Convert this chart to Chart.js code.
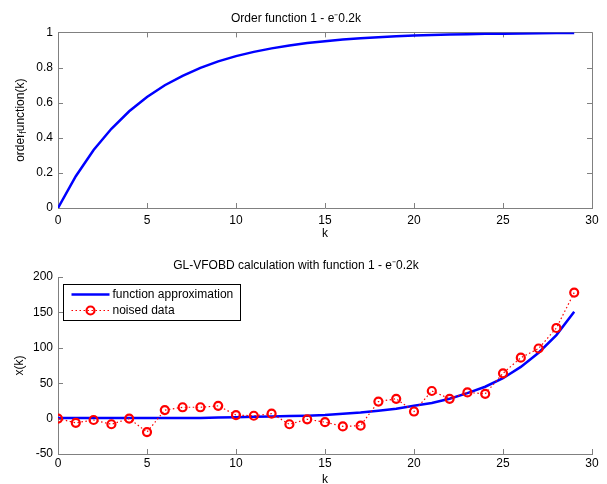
<!DOCTYPE html>
<html>
<head>
<meta charset="utf-8">
<script src="https://cdn.jsdelivr.net/npm/chart.js@4"></script>
<style>
  html, body { margin: 0; padding: 0; background: #fff; }
  canvas { display: block; }
</style>
</head>
<body>
<canvas id="orderChart" width="607" height="242"></canvas>
<canvas id="calcChart" width="607" height="242"></canvas>
<script>
// k = 0..29
const k = [0, 1, 2, 3, 4, 5, 6, 7, 8, 9, 10, 11, 12, 13, 14, 15, 16, 17, 18, 19, 20, 21, 22, 23, 24, 25, 26, 27, 28, 29];

// top plot: order function 1 - e^-0.2k
const orderFunction = [0, 0.181, 0.330, 0.451, 0.551, 0.632, 0.699, 0.753, 0.798, 0.835,
  0.865, 0.889, 0.909, 0.926, 0.939, 0.950, 0.959, 0.967, 0.973, 0.978,
  0.982, 0.985, 0.988, 0.990, 0.992, 0.993, 0.994, 0.995, 0.996, 0.997];

// bottom plot: GL-VFOBD result and noised data
const approximation = [1, 1, 1, 1, 1, 1, 1, 1, 1, 1.5, 2, 2.5, 3, 3.5, 4, 5, 7, 8.5, 11, 14,
  18, 22, 28, 36, 45, 57, 73, 93, 118, 151];
const noisedData = [0, -6, -2, -8, 0, -19, 12, 16, 16, 18, 5, 4, 7, -8, -1, -5, -11, -10, 24, 28,
  10, 39, 28, 37, 35, 64, 86, 99, 128, 178];

const titles = ['Order function 1 - e\u207B0.2k', 'GL-VFOBD calculation with function 1 - e\u207B0.2k'];
const legendLabels = ['function approximation', 'noised data'];

Chart.defaults.font.family = '"Liberation Sans", Arial, sans-serif';
Chart.defaults.font.size = 12;
Chart.defaults.color = '#000';

const AXIS = '#808080';
const toXY = ys => k.map((v, i) => ({ x: v, y: ys[i] }));

// matlab-like inward ticks (+ optional box)
const matlabAxes = {
  id: 'matlabAxes',
  beforeDatasetsDraw(chart, args, opts) {
    const { ctx, chartArea: a, scales: { x, y } } = chart;
    ctx.save();
    ctx.strokeStyle = AXIS;
    ctx.lineWidth = 1;
    ctx.beginPath();
    x.ticks.forEach(t => {
      const px = Math.round(x.getPixelForValue(t.value)) + 0.5;
      ctx.moveTo(px, a.bottom); ctx.lineTo(px, a.bottom - 5);
      if (opts.box) { ctx.moveTo(px, a.top); ctx.lineTo(px, a.top + 5); }
    });
    y.ticks.forEach(t => {
      const py = Math.round(y.getPixelForValue(t.value)) + 0.5;
      ctx.moveTo(a.left, py); ctx.lineTo(a.left + 5, py);
      if (opts.box) { ctx.moveTo(a.right, py); ctx.lineTo(a.right - 5, py); }
    });
    if (opts.box) {
      ctx.moveTo(a.left, Math.round(a.top) + 0.5); ctx.lineTo(a.right, Math.round(a.top) + 0.5);
      ctx.moveTo(Math.round(a.right) + 0.5, a.top); ctx.lineTo(Math.round(a.right) + 0.5, a.bottom);
    }
    ctx.stroke();
    ctx.restore();
  }
};

// y label with the "f" as subscript: order_function(k)
const subLabel = {
  id: 'subLabel',
  afterDraw(chart, args, opts) {
    if (!opts.parts) return;
    const { ctx, chartArea: a } = chart;
    const font = '12px "Liberation Sans", Arial, sans-serif';
    const small = '9px "Liberation Sans", Arial, sans-serif';
    ctx.save();
    ctx.font = font;
    const w0 = ctx.measureText(opts.parts[0]).width;
    const w2 = ctx.measureText(opts.parts[2]).width;
    ctx.font = small;
    const w1 = ctx.measureText(opts.parts[1]).width;
    const total = w0 + w1 + w2;
    ctx.translate(opts.x, (a.top + a.bottom) / 2);
    ctx.rotate(-Math.PI / 2);
    ctx.fillStyle = '#000';
    ctx.textBaseline = 'middle';
    let cx = -total / 2;
    ctx.font = font; ctx.fillText(opts.parts[0], cx, 0); cx += w0;
    ctx.font = small; ctx.fillText(opts.parts[1], cx, 3); cx += w1;
    ctx.font = font; ctx.fillText(opts.parts[2], cx, 0);
    ctx.restore();
  }
};

// legend box in upper-left of the axes
const boxLegend = {
  id: 'boxLegend',
  afterDraw(chart, args, opts) {
    if (!opts.show) return;
    const { ctx, chartArea: a } = chart;
    const x0 = Math.round(a.left + 5) + 0.5, y0 = Math.round(a.top + 7) + 0.5;
    ctx.save();
    ctx.fillStyle = '#fff';
    ctx.fillRect(x0, y0, 177, 36);
    ctx.strokeStyle = '#000';
    ctx.lineWidth = 1;
    ctx.strokeRect(x0, y0, 177, 36);
    // row 1
    ctx.strokeStyle = '#0000ff';
    ctx.lineWidth = 2.5;
    ctx.beginPath(); ctx.moveTo(x0 + 8, y0 + 10); ctx.lineTo(x0 + 46, y0 + 10); ctx.stroke();
    // row 2
    ctx.strokeStyle = '#ff0000';
    ctx.lineWidth = 1.2;
    ctx.setLineDash([1.5, 2.5]);
    ctx.beginPath(); ctx.moveTo(x0 + 8, y0 + 26); ctx.lineTo(x0 + 46, y0 + 26); ctx.stroke();
    ctx.setLineDash([]);
    ctx.lineWidth = 2.2;
    ctx.beginPath(); ctx.arc(x0 + 27, y0 + 26, 4, 0, Math.PI * 2); ctx.stroke();
    ctx.fillStyle = '#000';
    ctx.font = '12px "Liberation Sans", Arial, sans-serif';
    ctx.textBaseline = 'middle';
    ctx.fillText(opts.labels[0], x0 + 49, y0 + 10);
    ctx.fillText(opts.labels[1], x0 + 49, y0 + 26);
    ctx.restore();
  }
};

function axisX(h, tickPad, titlePad) {
  return {
    type: 'linear', min: 0, max: 30,
    ticks: { stepSize: 5, padding: tickPad, maxRotation: 0 },
    grid: { display: true, drawOnChartArea: false, drawTicks: false },
    border: { display: true, color: AXIS },
    title: { display: true, text: 'k', font: { size: 12, lineHeight: 1 }, padding: { top: 0, bottom: titlePad } },
    afterFit: s => { s.height = h; }
  };
}

new Chart(document.getElementById('orderChart'), {
  type: 'line',
  data: {
    datasets: [{
      data: toXY(orderFunction),
      borderColor: '#0000ff', borderWidth: 2.5,
      pointRadius: 0, tension: 0, fill: false
    }]
  },
  options: {
    responsive: false, animation: false, devicePixelRatio: 1,
    layout: { padding: { left: 0, right: 15, top: 0, bottom: 0 } },
    scales: {
      x: axisX(34, 5, 2),
      y: {
        min: 0, max: 1,
        ticks: { stepSize: 0.2, padding: 5, callback: v => String(Math.round(v * 10) / 10) },
        grid: { display: true, drawOnChartArea: false, drawTicks: false },
        border: { display: true, color: AXIS },
        afterFit: s => { s.width = 58; }
      }
    },
    plugins: {
      legend: { display: false },
      tooltip: { enabled: false },
      title: {
        display: true, text: titles[0], color: '#000',
        font: { size: 12, weight: 'normal' },
        padding: { top: 11, bottom: 7 }
      },
      matlabAxes: { box: true },
      subLabel: { parts: ['order', 'f', 'unction(k)'], x: 21 },
      boxLegend: { show: false }
    }
  },
  plugins: [matlabAxes, subLabel, boxLegend]
});

new Chart(document.getElementById('calcChart'), {
  type: 'line',
  data: {
    datasets: [
      {
        label: legendLabels[0],
        data: toXY(approximation),
        borderColor: '#0000ff', borderWidth: 2.5,
        pointRadius: 0, tension: 0, fill: false, order: 1
      },
      {
        label: legendLabels[1],
        data: toXY(noisedData),
        borderColor: '#ff0000', borderWidth: 1.2, borderDash: [1.5, 2.5],
        pointRadius: 4, pointBorderWidth: 2.2, pointBorderColor: '#ff0000',
        pointBackgroundColor: 'rgba(255,255,255,0)',
        tension: 0, fill: false, order: 0
      }
    ]
  },
  options: {
    responsive: false, animation: false, devicePixelRatio: 1,
    layout: { padding: { left: 0, right: 15, top: 0, bottom: 0 } },
    scales: {
      x: axisX(30, 2, -1.5),
      y: {
        min: -50, max: 200,
        ticks: { stepSize: 50, padding: 5 },
        grid: { display: true, drawOnChartArea: false, drawTicks: false },
        border: { display: true, color: AXIS },
        title: { display: true, text: 'x(k)', font: { size: 12, lineHeight: 1 }, padding: { top: 14, bottom: 0 } },
        afterFit: s => { s.width = 58; }
      }
    },
    plugins: {
      legend: { display: false },
      tooltip: { enabled: false },
      title: {
        display: true, text: titles[1], color: '#000',
        font: { size: 12, weight: 'normal' },
        padding: { top: 16, bottom: 4.6 }
      },
      matlabAxes: { box: false },
      subLabel: {},
      boxLegend: { show: true, labels: legendLabels }
    }
  },
  plugins: [matlabAxes, subLabel, boxLegend]
});
</script>
</body>
</html>
